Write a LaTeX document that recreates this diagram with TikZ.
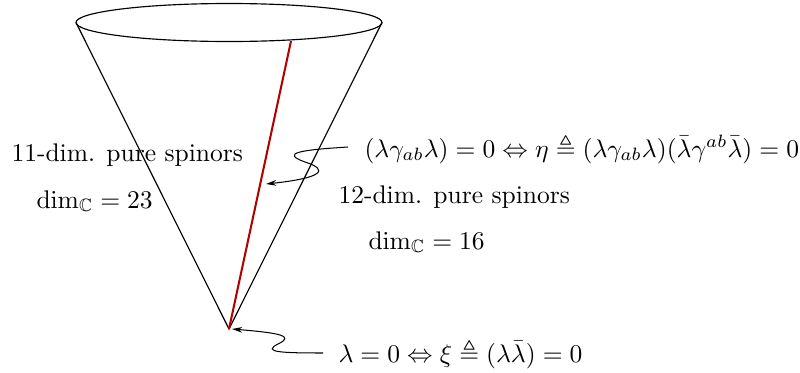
\documentclass[tikz,border=0pt]{standalone}
\usepackage{amssymb}
\usetikzlibrary{arrows.meta}
\definecolor{conered}{RGB}{178,0,0}
\tikzset{
  lbl/.style={anchor=base west, inner sep=0pt},
  cone/.style={line width=0.45pt},
  wavy/.style={line width=0.4pt, -{Stealth[length=4pt,width=2.2pt]}},
}
\begin{document}
\begin{tikzpicture}[x=0.392pt,y=-0.392pt]
\useasboundingbox (0,0) rectangle (800,373);
% cone
\coordinate (apex) at (229,329);
\coordinate (L) at (76,22.5);
\coordinate (R) at (382,22.5);
\coordinate (top) at (291,41);
\draw[cone] (229,22.5) ellipse [x radius=153, y radius=19];
\draw[cone] (L) -- (apex) -- (R);
\draw[conered, line width=0.8pt] (apex) -- (top);
% labels
\node[lbl] (l11) at (11,161) {11-dim. pure spinors};
\node[lbl] (d23) at (36,208) {$\dim_{\mathbb{C}}=23$};
\node[lbl] (l12) at (338,203) {12-dim. pure spinors};
\node[lbl] (d16) at (368,249) {$\dim_{\mathbb{C}}=16$};
\node[lbl] (eta) at (364,157) {$(\lambda\gamma_{ab}\lambda)=0\Leftrightarrow\eta\triangleq(\lambda\gamma_{ab}\lambda)(\bar\lambda\gamma^{ab}\bar\lambda)=0$};
\node[lbl] (xi) at (338,362) {$\lambda=0\Leftrightarrow\xi\triangleq(\lambda\bar\lambda)=0$};
% wavy arrows
\coordinate (s1) at (348,147);
\coordinate (e1) at (266,184);
\coordinate (s2) at (323,353);
\coordinate (e2) at (232,329);
\draw[wavy] (s1) .. controls (300,150) and (280,153) .. (305,162) .. controls (330,170) and (322,178) .. (e1);
\draw[wavy] (s2) .. controls (280,353) and (262,352) .. (278,344) .. controls (295,336) and (280,333) .. (e2);
\end{tikzpicture}
\end{document}
